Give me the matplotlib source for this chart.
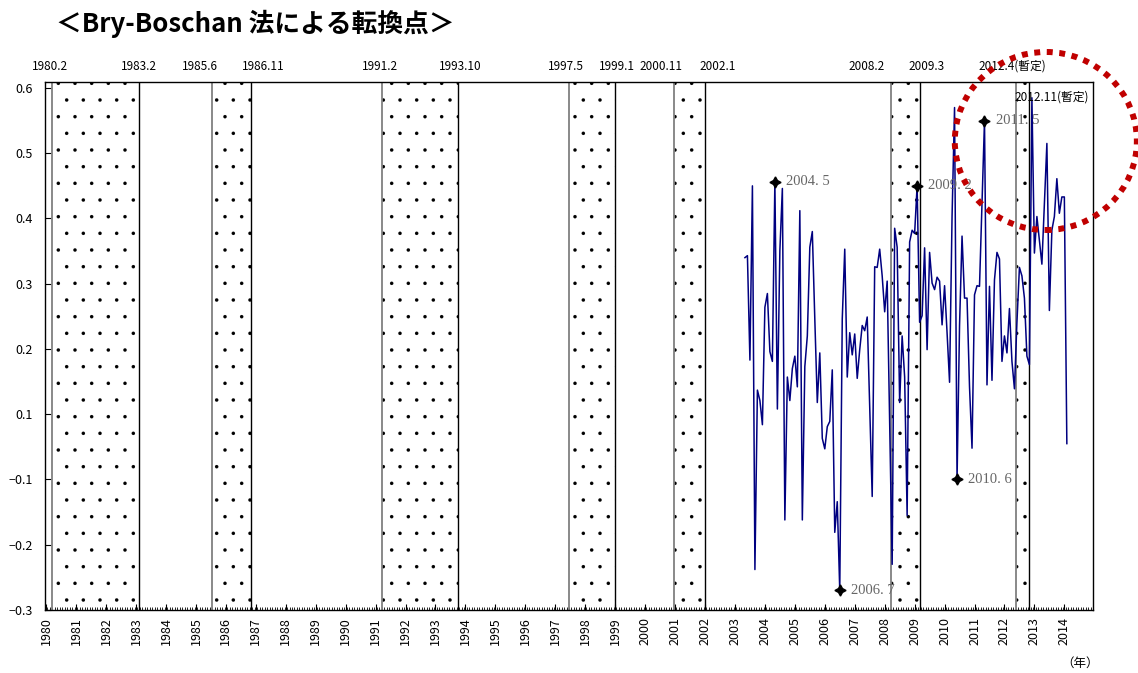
import matplotlib
matplotlib.use('Agg')
import matplotlib.pyplot as plt
import matplotlib.transforms as mtransforms
from matplotlib.patches import Ellipse
from matplotlib.ticker import FixedLocator, FixedFormatter

plt.rcParams['font.family'] = ['Noto Sans CJK JP', 'DejaVu Sans']
plt.rcParams['hatch.linewidth'] = 0.1
plt.rcParams['hatch.color'] = 'black'

# データ
title = '＜Bry-Boschan 法による転換点＞'

# 景気の山・谷（年, 月）
peaks = [(1980, 2), (1985, 6), (1991, 2), (1997, 5), (2000, 11), (2008, 2), (2012, 4)]
troughs = [(1983, 2), (1986, 11), (1993, 10), (1999, 1), (2002, 1), (2009, 3), (2012, 11)]

top_labels = ['1980.2', '1983.2', '1985.6', '1986.11', '1991.2', '1993.10',
              '1997.5', '1999.1', '2000.11', '2002.1', '2008.2', '2009.3',
              '2012.4(暫定)']
last_trough_label = '2012.11(暫定)'

# 月次系列 2003年5月〜
series_start = (2003, 5)
values = [
    0.340, 0.343, 0.183, 0.450, -0.138, 0.137, 0.121, 0.084, 0.264, 0.285,
    0.196, 0.181, 0.456, 0.108, 0.351, 0.446, -0.062, 0.157, 0.121, 0.170,
    0.189, 0.142, 0.412, -0.062, 0.173, 0.220, 0.356, 0.380, 0.246, 0.118,
    0.194, 0.063, 0.047, 0.081, 0.089, 0.168, -0.081, -0.034, -0.170, 0.246,
    0.353, 0.157, 0.225, 0.191, 0.223, 0.155, 0.199, 0.236, 0.228, 0.249,
    0.110, -0.026, 0.326, 0.325, 0.353, 0.312, 0.257, 0.304, 0.089, -0.130,
    0.385, 0.356, 0.118, 0.220, 0.157, -0.055, 0.364, 0.382, 0.377, 0.450,
    0.241, 0.251, 0.355, 0.199, 0.348, 0.301, 0.291, 0.310, 0.304, 0.237,
    0.297, 0.225, 0.149, 0.403, 0.570, 0.000, 0.236, 0.373, 0.278, 0.278,
    0.142, 0.048, 0.283, 0.297, 0.296, 0.424, 0.550, 0.145, 0.296, 0.152,
    0.306, 0.348, 0.338, 0.181, 0.220, 0.194, 0.262, 0.181, 0.139, 0.241,
    0.325, 0.312, 0.278, 0.189, 0.176, 0.585, 0.347, 0.403, 0.366, 0.330,
    0.424, 0.515, 0.259, 0.382, 0.403, 0.461, 0.408, 0.433, 0.433, 0.055,
]

# 転換点（ラベル, 年, 月）
turning_points = [('2004. 5', 2004, 5), ('2006. 7', 2006, 7), ('2009. 2', 2009, 2),
                  ('2010. 6', 2010, 6), ('2011. 5', 2011, 5)]

years = list(range(1980, 2015))
ytick_pos = [0.6, 0.5, 0.4, 0.3, 0.2, 0.1, 0.0, -0.1, -0.2]
ytick_labels = ['0.6', '0.5', '0.4', '0.3', '0.2', '0.1', '−0.1', '−0.2', '−0.3']

# 上部ラベルの位置（年）
top_label_x = [1980.17, 1983.14, 1985.18, 1987.28, 1991.19, 1993.86,
               1997.40, 1999.10, 2000.58, 2002.47, 2007.45, 2009.43, 2012.29]


def month_x(y, m):
    """月の中央の位置."""
    return y + (m - 0.5) / 12.0


def main():
    fig = plt.figure(figsize=(11.38, 6.73), dpi=100)
    ax = fig.add_axes([0.0395, 0.0936, 0.921, 0.7846])

    # 後退期のシャドー
    for (py, pm), (ty, tm) in zip(peaks, troughs):
        x0 = month_x(py, pm) + 1.5 / 12
        x1 = month_x(ty, tm)
        ax.axvspan(x0, x1, facecolor='white', edgecolor='black', hatch='.',
                   linewidth=0, zorder=1)
        ax.axvline(x0, color='#808080', lw=1.3, zorder=2)
        ax.axvline(x1, color='black', lw=1.0, zorder=2)

    sy, sm = series_start
    xs = [month_x(sy + (sm - 1 + i) // 12, (sm - 1 + i) % 12 + 1) for i in range(len(values))]
    ax.plot(xs, values, color='#000080', lw=1.1, zorder=3)

    for label, y, m in turning_points:
        idx = (y - sy) * 12 + (m - sm)
        ax.plot(xs[idx], values[idx], marker=(4, 1, 0), ms=8, color='black',
                zorder=4)
        ax.annotate(label, (xs[idx], values[idx]), xytext=(8, 0),
                    textcoords='offset points', va='center', ha='left',
                    fontsize=10.5, color='#666666', family='Liberation Serif',
                    zorder=5)

    ax.set_xlim(1980, 2015)
    ax.set_ylim(-0.2, 0.6092)

    ax.yaxis.set_major_locator(FixedLocator(ytick_pos))
    ax.yaxis.set_major_formatter(FixedFormatter(ytick_labels))
    ax.xaxis.set_major_locator(FixedLocator([y + 1 / 24 for y in years]))
    ax.xaxis.set_major_formatter(FixedFormatter([str(y) for y in years]))
    ax.xaxis.set_minor_locator(FixedLocator([1980 + k / 12 for k in range(35 * 12)]))
    ax.tick_params(axis='x', which='major', direction='in', length=4,
                   labelsize=9, labelrotation=90, pad=5)
    ax.tick_params(axis='x', which='minor', direction='in', length=2.5)
    ax.tick_params(axis='y', direction='in', length=4, labelsize=9, pad=9)
    for sp in ax.spines.values():
        sp.set_linewidth(1.0)

    # 上部の日付ラベル
    trans = mtransforms.blended_transform_factory(ax.transData, ax.transAxes)
    for lab, x in zip(top_labels, top_label_x):
        ax.text(x, 1.03, lab, transform=trans, ha='center', va='center',
                fontsize=8.5, clip_on=False)
    ax.text(2012.39, 0.972, last_trough_label, transform=trans, ha='left',
            va='center', fontsize=8.5, zorder=6)

    fig.text(0.224, 0.965, title, ha='center', va='center', fontsize=18.5,
             fontweight='bold')
    fig.text(0.949, 0.015, '（年）', ha='center', va='center', fontsize=9)

    # 赤い点線の楕円
    ell = Ellipse((0.919, 0.7905), 0.16, 0.2645, transform=fig.transFigure,
                  fill=False, edgecolor='#C00000', lw=4.3,
                  linestyle=(0, (1, 1.1)), zorder=10)
    fig.patches.append(ell)

    fig.savefig('out.png', dpi=100)
    plt.close(fig)


if __name__ == '__main__':
    main()
